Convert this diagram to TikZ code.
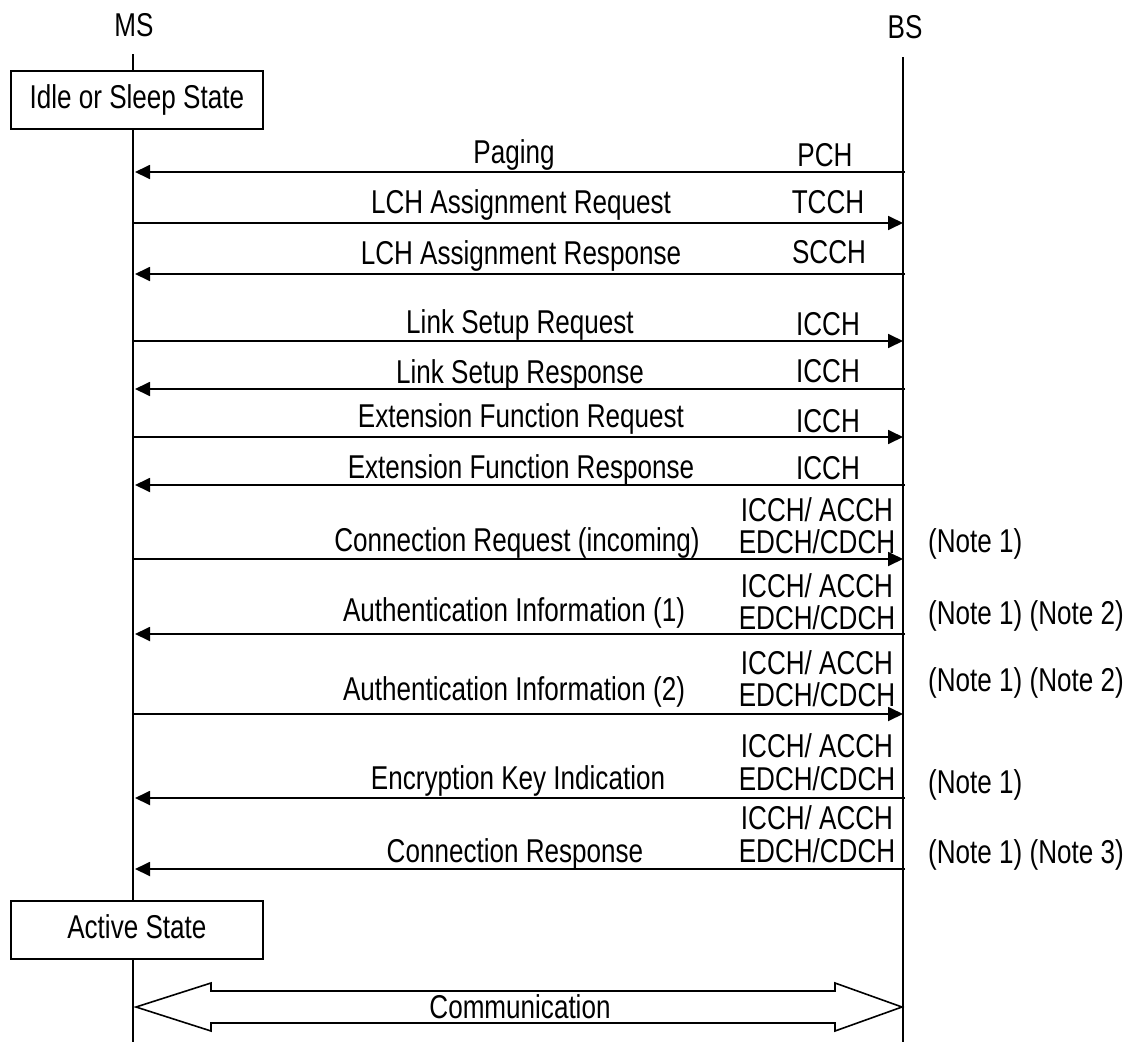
\documentclass[tikz,border=0pt]{standalone}
\usepackage{fontspec}
\setmainfont{Liberation Sans}[FakeStretch=0.79]
\usetikzlibrary{arrows.meta}
\tikzset{
  lbl/.style={font=\fontsize{33pt}{32pt}\selectfont, inner sep=0pt, anchor=base},
  notelbl/.style={lbl, anchor=base west},
  statebox/.style={draw, line width=1.8pt, font=\fontsize{33pt}{32pt}\selectfont,
    minimum width=252.3pt, minimum height=58pt, inner sep=0pt,
    text height=23pt, text depth=7pt},
  life/.style={line width=1.8pt},
  msg/.style={line width=1.8pt, -{Triangle[length=15pt,width=14pt]}},
  bigarrow/.style={line width=1.6pt, line join=miter},
}
\begin{document}
\begin{tikzpicture}[x=1pt, y=-1pt]
\useasboundingbox (0,0) rectangle (1133,1052);

% heads and lifelines
\node[lbl] (msLbl) at (134,36) {MS};
\node[lbl] (bsLbl) at (905,38) {BS};
\coordinate (msTop) at (133,54);
\coordinate (msBot) at (133,1042);
\coordinate (bsTop) at (903,57);
\coordinate (bsBot) at (903,1042);
\node[statebox] (idle) at (136.85,100) {Idle or Sleep State};
\node[statebox] (active) at (136.85,930) {Active State};
\draw[life] (msTop) -- (msTop |- idle.north);
\draw[life] (msTop |- idle.south) -- (msTop |- active.north);
\draw[life] (msTop |- active.south) -- (msBot);
\draw[life] (bsTop) -- (bsBot);

% message end points
\coordinate (bs1) at (905,172);  \coordinate (ms1) at (135,172);
\coordinate (ms2) at (133,223);  \coordinate (bs2) at (903,223);
\coordinate (bs3) at (905,274);  \coordinate (ms3) at (135,274);
\coordinate (ms4) at (133,341);  \coordinate (bs4) at (903,341);
\coordinate (bs5) at (905,389);  \coordinate (ms5) at (135,389);
\coordinate (ms6) at (133,437);  \coordinate (bs6) at (903,437);
\coordinate (bs7) at (905,485);  \coordinate (ms7) at (135,485);
\coordinate (ms8) at (133,559);  \coordinate (bs8) at (903,559);
\coordinate (bs9) at (905,634);  \coordinate (ms9) at (135,634);
\coordinate (ms10) at (133,714); \coordinate (bs10) at (903,714);
\coordinate (bs11) at (905,798); \coordinate (ms11) at (135,798);
\coordinate (bs12) at (905,869); \coordinate (ms12) at (135,869);

\draw[msg] (bs1) -- (ms1);
\draw[msg] (ms2) -- (bs2);
\draw[msg] (bs3) -- (ms3);
\draw[msg] (ms4) -- (bs4);
\draw[msg] (bs5) -- (ms5);
\draw[msg] (ms6) -- (bs6);
\draw[msg] (bs7) -- (ms7);
\draw[msg] (ms8) -- (bs8);
\draw[msg] (bs9) -- (ms9);
\draw[msg] (ms10) -- (bs10);
\draw[msg] (bs11) -- (ms11);
\draw[msg] (bs12) -- (ms12);

% message labels
\node[lbl] (t1) at (514,163) {Paging};
\node[lbl] (t2) at (521,213) {LCH Assignment Request};
\node[lbl] (t3) at (521,264) {LCH Assignment Response};
\node[lbl] (t4) at (520,333) {Link Setup Request};
\node[lbl] (t5) at (520,383) {Link Setup Response};
\node[lbl] (t6) at (521,427) {Extension Function Request};
\node[lbl] (t7) at (521,478) {Extension Function Response};
\node[lbl] (t8) at (517,551) {Connection Request (incoming)};
\node[lbl] (t9) at (514,621) {Authentication Information (1)};
\node[lbl] (t10) at (514,700) {Authentication Information (2)};
\node[lbl] (t11) at (518,789) {Encryption Key Indication};
\node[lbl] (t12) at (515,862) {Connection Response};

% channel labels
\node[lbl] (c1) at (825,166) {PCH};
\node[lbl] (c2) at (828,213) {TCCH};
\node[lbl] (c3) at (829,263) {SCCH};
\node[lbl] (c4) at (828,335) {ICCH};
\node[lbl] (c5) at (828,382) {ICCH};
\node[lbl] (c6) at (828,432) {ICCH};
\node[lbl] (c7) at (828,479) {ICCH};
\node[lbl] (c8a) at (817,521) {ICCH/ ACCH};
\node[lbl] (c8b) at (817,553) {EDCH/CDCH};
\node[lbl] (c9a) at (817,597) {ICCH/ ACCH};
\node[lbl] (c9b) at (817,629) {EDCH/CDCH};
\node[lbl] (c10a) at (817,674) {ICCH/ ACCH};
\node[lbl] (c10b) at (817,706) {EDCH/CDCH};
\node[lbl] (c11a) at (817,757) {ICCH/ ACCH};
\node[lbl] (c11b) at (817,790) {EDCH/CDCH};
\node[lbl] (c12a) at (817,829) {ICCH/ ACCH};
\node[lbl] (c12b) at (817,862) {EDCH/CDCH};

% notes
\node[notelbl] (n8) at (928,552) {(Note 1)};
\node[notelbl] (n9) at (928,624) {(Note 1) (Note 2)};
\node[notelbl] (n10) at (928,691) {(Note 1) (Note 2)};
\node[notelbl] (n11) at (928,793) {(Note 1)};
\node[notelbl] (n12) at (928,863) {(Note 1) (Note 3)};

% communication double arrow
\coordinate (commL) at (136,1007);
\coordinate (commR) at (902,1007);
\draw[bigarrow] (commL) -- (211,983) -- (211,991) -- (835,991) -- (835,983)
  -- (commR) -- (835,1031) -- (835,1023) -- (211,1023) -- (211,1031) -- cycle;
\node[lbl] (comm) at (520,1018) {Communication};
\end{tikzpicture}
\end{document}
